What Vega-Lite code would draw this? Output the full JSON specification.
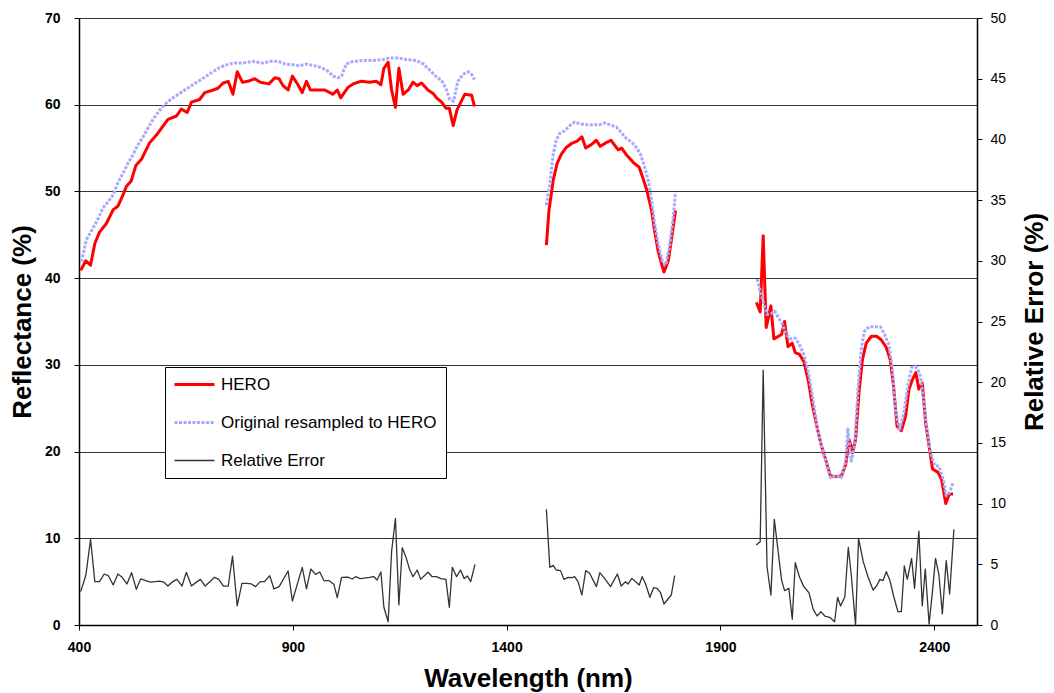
{
"$schema":"https://vega.github.io/schema/vega-lite/v6.json",
"autosize":{"type":"none"},
"padding":{"left":79,"top":18,"right":77,"bottom":68},
"width":898,"height":607,
"background":"white",
"data":{"values":[
{"series":"HERO","nm":404,"value":40.9,"segment":1},{"series":"HERO","nm":416,"value":42.0,"segment":1},{"series":"HERO","nm":427,"value":41.5,"segment":1},{"series":"HERO","nm":437,"value":44.0,"segment":1},{"series":"HERO","nm":448,"value":45.3,"segment":1},{"series":"HERO","nm":464,"value":46.3,"segment":1},{"series":"HERO","nm":480,"value":47.9,"segment":1},{"series":"HERO","nm":491,"value":48.3,"segment":1},{"series":"HERO","nm":503,"value":49.6,"segment":1},{"series":"HERO","nm":511,"value":50.6,"segment":1},{"series":"HERO","nm":522,"value":51.2,"segment":1},{"series":"HERO","nm":533,"value":53.0,"segment":1},{"series":"HERO","nm":546,"value":53.7,"segment":1},{"series":"HERO","nm":565,"value":55.6,"segment":1},{"series":"HERO","nm":581,"value":56.5,"segment":1},{"series":"HERO","nm":593,"value":57.3,"segment":1},{"series":"HERO","nm":608,"value":58.3,"segment":1},{"series":"HERO","nm":628,"value":58.7,"segment":1},{"series":"HERO","nm":639,"value":59.5,"segment":1},{"series":"HERO","nm":653,"value":59.1,"segment":1},{"series":"HERO","nm":663,"value":60.3,"segment":1},{"series":"HERO","nm":682,"value":60.6,"segment":1},{"series":"HERO","nm":694,"value":61.4,"segment":1},{"series":"HERO","nm":714,"value":61.7,"segment":1},{"series":"HERO","nm":725,"value":61.9,"segment":1},{"series":"HERO","nm":737,"value":62.5,"segment":1},{"series":"HERO","nm":749,"value":62.7,"segment":1},{"series":"HERO","nm":760,"value":61.2,"segment":1},{"series":"HERO","nm":770,"value":63.8,"segment":1},{"series":"HERO","nm":782,"value":62.6,"segment":1},{"series":"HERO","nm":795,"value":62.7,"segment":1},{"series":"HERO","nm":811,"value":63.0,"segment":1},{"series":"HERO","nm":824,"value":62.6,"segment":1},{"series":"HERO","nm":844,"value":62.4,"segment":1},{"series":"HERO","nm":858,"value":63.1,"segment":1},{"series":"HERO","nm":868,"value":63.0,"segment":1},{"series":"HERO","nm":877,"value":62.2,"segment":1},{"series":"HERO","nm":889,"value":61.7,"segment":1},{"series":"HERO","nm":899,"value":63.3,"segment":1},{"series":"HERO","nm":912,"value":62.3,"segment":1},{"series":"HERO","nm":922,"value":61.4,"segment":1},{"series":"HERO","nm":932,"value":62.7,"segment":1},{"series":"HERO","nm":941,"value":61.7,"segment":1},{"series":"HERO","nm":955,"value":61.7,"segment":1},{"series":"HERO","nm":975,"value":61.7,"segment":1},{"series":"HERO","nm":994,"value":61.2,"segment":1},{"series":"HERO","nm":1004,"value":61.7,"segment":1},{"series":"HERO","nm":1012,"value":60.8,"segment":1},{"series":"HERO","nm":1029,"value":62.0,"segment":1},{"series":"HERO","nm":1041,"value":62.4,"segment":1},{"series":"HERO","nm":1060,"value":62.7,"segment":1},{"series":"HERO","nm":1080,"value":62.6,"segment":1},{"series":"HERO","nm":1095,"value":62.7,"segment":1},{"series":"HERO","nm":1106,"value":62.3,"segment":1},{"series":"HERO","nm":1113,"value":64.2,"segment":1},{"series":"HERO","nm":1123,"value":64.9,"segment":1},{"series":"HERO","nm":1131,"value":61.7,"segment":1},{"series":"HERO","nm":1140,"value":59.7,"segment":1},{"series":"HERO","nm":1148,"value":64.2,"segment":1},{"series":"HERO","nm":1158,"value":61.2,"segment":1},{"series":"HERO","nm":1170,"value":61.7,"segment":1},{"series":"HERO","nm":1181,"value":62.6,"segment":1},{"series":"HERO","nm":1191,"value":62.2,"segment":1},{"series":"HERO","nm":1201,"value":62.5,"segment":1},{"series":"HERO","nm":1216,"value":61.7,"segment":1},{"series":"HERO","nm":1228,"value":61.3,"segment":1},{"series":"HERO","nm":1236,"value":60.8,"segment":1},{"series":"HERO","nm":1248,"value":60.3,"segment":1},{"series":"HERO","nm":1258,"value":59.6,"segment":1},{"series":"HERO","nm":1266,"value":59.6,"segment":1},{"series":"HERO","nm":1275,"value":57.6,"segment":1},{"series":"HERO","nm":1284,"value":59.4,"segment":1},{"series":"HERO","nm":1302,"value":61.2,"segment":1},{"series":"HERO","nm":1318,"value":61.1,"segment":1},{"series":"HERO","nm":1325,"value":59.8,"segment":1},
{"series":"HERO","nm":1493,"value":43.8,"segment":2},{"series":"HERO","nm":1499,"value":47.8,"segment":2},{"series":"HERO","nm":1509,"value":51.3,"segment":2},{"series":"HERO","nm":1518,"value":53.2,"segment":2},{"series":"HERO","nm":1528,"value":54.3,"segment":2},{"series":"HERO","nm":1540,"value":55.1,"segment":2},{"series":"HERO","nm":1551,"value":55.5,"segment":2},{"series":"HERO","nm":1565,"value":55.8,"segment":2},{"series":"HERO","nm":1576,"value":56.3,"segment":2},{"series":"HERO","nm":1585,"value":55.0,"segment":2},{"series":"HERO","nm":1598,"value":55.4,"segment":2},{"series":"HERO","nm":1610,"value":55.9,"segment":2},{"series":"HERO","nm":1619,"value":55.2,"segment":2},{"series":"HERO","nm":1632,"value":55.6,"segment":2},{"series":"HERO","nm":1644,"value":55.9,"segment":2},{"series":"HERO","nm":1653,"value":55.3,"segment":2},{"series":"HERO","nm":1661,"value":54.8,"segment":2},{"series":"HERO","nm":1669,"value":55.0,"segment":2},{"series":"HERO","nm":1679,"value":54.3,"segment":2},{"series":"HERO","nm":1688,"value":53.8,"segment":2},{"series":"HERO","nm":1697,"value":53.3,"segment":2},{"series":"HERO","nm":1710,"value":52.8,"segment":2},{"series":"HERO","nm":1719,"value":51.5,"segment":2},{"series":"HERO","nm":1728,"value":50.1,"segment":2},{"series":"HERO","nm":1739,"value":47.8,"segment":2},{"series":"HERO","nm":1746,"value":45.5,"segment":2},{"series":"HERO","nm":1754,"value":43.2,"segment":2},{"series":"HERO","nm":1762,"value":41.7,"segment":2},{"series":"HERO","nm":1768,"value":40.7,"segment":2},{"series":"HERO","nm":1778,"value":42.0,"segment":2},{"series":"HERO","nm":1785,"value":44.3,"segment":2},{"series":"HERO","nm":1795,"value":47.8,"segment":2},
{"series":"HERO","nm":1984,"value":37.2,"segment":3},{"series":"HERO","nm":1993,"value":36.1,"segment":3},{"series":"HERO","nm":2000,"value":44.9,"segment":3},{"series":"HERO","nm":2007,"value":34.3,"segment":3},{"series":"HERO","nm":2018,"value":36.8,"segment":3},{"series":"HERO","nm":2025,"value":33.0,"segment":3},{"series":"HERO","nm":2043,"value":33.5,"segment":3},{"series":"HERO","nm":2050,"value":35.0,"segment":3},{"series":"HERO","nm":2058,"value":32.1,"segment":3},{"series":"HERO","nm":2068,"value":32.5,"segment":3},{"series":"HERO","nm":2075,"value":31.4,"segment":3},{"series":"HERO","nm":2085,"value":31.2,"segment":3},{"series":"HERO","nm":2095,"value":30.4,"segment":3},{"series":"HERO","nm":2105,"value":28.3,"segment":3},{"series":"HERO","nm":2115,"value":25.4,"segment":3},{"series":"HERO","nm":2126,"value":22.8,"segment":3},{"series":"HERO","nm":2136,"value":20.7,"segment":3},{"series":"HERO","nm":2146,"value":19.1,"segment":3},{"series":"HERO","nm":2157,"value":17.2,"segment":3},{"series":"HERO","nm":2171,"value":17.1,"segment":3},{"series":"HERO","nm":2183,"value":17.2,"segment":3},{"series":"HERO","nm":2193,"value":18.5,"segment":3},{"series":"HERO","nm":2201,"value":21.4,"segment":3},{"series":"HERO","nm":2209,"value":19.9,"segment":3},{"series":"HERO","nm":2216,"value":21.4,"segment":3},{"series":"HERO","nm":2224,"value":26.8,"segment":3},{"series":"HERO","nm":2232,"value":30.6,"segment":3},{"series":"HERO","nm":2241,"value":32.5,"segment":3},{"series":"HERO","nm":2253,"value":33.3,"segment":3},{"series":"HERO","nm":2265,"value":33.3,"segment":3},{"series":"HERO","nm":2276,"value":32.9,"segment":3},{"series":"HERO","nm":2288,"value":32.0,"segment":3},{"series":"HERO","nm":2297,"value":30.6,"segment":3},{"series":"HERO","nm":2305,"value":27.5,"segment":3},{"series":"HERO","nm":2313,"value":22.9,"segment":3},{"series":"HERO","nm":2323,"value":22.4,"segment":3},{"series":"HERO","nm":2333,"value":24.1,"segment":3},{"series":"HERO","nm":2341,"value":27.2,"segment":3},{"series":"HERO","nm":2349,"value":28.3,"segment":3},{"series":"HERO","nm":2357,"value":29.1,"segment":3},{"series":"HERO","nm":2364,"value":27.2,"segment":3},{"series":"HERO","nm":2372,"value":27.9,"segment":3},{"series":"HERO","nm":2380,"value":23.3,"segment":3},{"series":"HERO","nm":2389,"value":20.3,"segment":3},{"series":"HERO","nm":2396,"value":18.0,"segment":3},{"series":"HERO","nm":2409,"value":17.6,"segment":3},{"series":"HERO","nm":2417,"value":16.8,"segment":3},{"series":"HERO","nm":2427,"value":14.0,"segment":3},{"series":"HERO","nm":2435,"value":15.1,"segment":3},{"series":"HERO","nm":2444,"value":15.1,"segment":3},
{"series":"Original resampled to HERO","nm":406,"value":41.9,"segment":1},{"series":"Original resampled to HERO","nm":417,"value":44.4,"segment":1},{"series":"Original resampled to HERO","nm":433,"value":45.8,"segment":1},{"series":"Original resampled to HERO","nm":445,"value":46.9,"segment":1},{"series":"Original resampled to HERO","nm":456,"value":48.1,"segment":1},{"series":"Original resampled to HERO","nm":468,"value":48.8,"segment":1},{"series":"Original resampled to HERO","nm":480,"value":49.6,"segment":1},{"series":"Original resampled to HERO","nm":491,"value":51.0,"segment":1},{"series":"Original resampled to HERO","nm":503,"value":52.1,"segment":1},{"series":"Original resampled to HERO","nm":515,"value":53.3,"segment":1},{"series":"Original resampled to HERO","nm":526,"value":54.2,"segment":1},{"series":"Original resampled to HERO","nm":538,"value":55.4,"segment":1},{"series":"Original resampled to HERO","nm":550,"value":56.3,"segment":1},{"series":"Original resampled to HERO","nm":561,"value":57.3,"segment":1},{"series":"Original resampled to HERO","nm":573,"value":58.3,"segment":1},{"series":"Original resampled to HERO","nm":589,"value":59.4,"segment":1},{"series":"Original resampled to HERO","nm":604,"value":60.2,"segment":1},{"series":"Original resampled to HERO","nm":620,"value":60.8,"segment":1},{"series":"Original resampled to HERO","nm":635,"value":61.3,"segment":1},{"series":"Original resampled to HERO","nm":651,"value":61.8,"segment":1},{"series":"Original resampled to HERO","nm":666,"value":62.3,"segment":1},{"series":"Original resampled to HERO","nm":682,"value":62.8,"segment":1},{"series":"Original resampled to HERO","nm":698,"value":63.3,"segment":1},{"series":"Original resampled to HERO","nm":713,"value":63.8,"segment":1},{"series":"Original resampled to HERO","nm":729,"value":64.3,"segment":1},{"series":"Original resampled to HERO","nm":745,"value":64.6,"segment":1},{"series":"Original resampled to HERO","nm":760,"value":64.8,"segment":1},{"series":"Original resampled to HERO","nm":784,"value":64.8,"segment":1},{"series":"Original resampled to HERO","nm":807,"value":65.0,"segment":1},{"series":"Original resampled to HERO","nm":830,"value":64.8,"segment":1},{"series":"Original resampled to HERO","nm":846,"value":65.0,"segment":1},{"series":"Original resampled to HERO","nm":866,"value":65.0,"segment":1},{"series":"Original resampled to HERO","nm":881,"value":64.7,"segment":1},{"series":"Original resampled to HERO","nm":901,"value":64.6,"segment":1},{"series":"Original resampled to HERO","nm":916,"value":64.5,"segment":1},{"series":"Original resampled to HERO","nm":932,"value":64.7,"segment":1},{"series":"Original resampled to HERO","nm":940,"value":64.6,"segment":1},{"series":"Original resampled to HERO","nm":959,"value":64.4,"segment":1},{"series":"Original resampled to HERO","nm":979,"value":64.0,"segment":1},{"series":"Original resampled to HERO","nm":994,"value":63.3,"segment":1},{"series":"Original resampled to HERO","nm":1006,"value":63.1,"segment":1},{"series":"Original resampled to HERO","nm":1014,"value":63.3,"segment":1},{"series":"Original resampled to HERO","nm":1025,"value":64.7,"segment":1},{"series":"Original resampled to HERO","nm":1041,"value":65.0,"segment":1},{"series":"Original resampled to HERO","nm":1064,"value":65.1,"segment":1},{"series":"Original resampled to HERO","nm":1088,"value":65.1,"segment":1},{"series":"Original resampled to HERO","nm":1111,"value":65.2,"segment":1},{"series":"Original resampled to HERO","nm":1127,"value":65.4,"segment":1},{"series":"Original resampled to HERO","nm":1146,"value":65.4,"segment":1},{"series":"Original resampled to HERO","nm":1166,"value":65.2,"segment":1},{"series":"Original resampled to HERO","nm":1189,"value":65.1,"segment":1},{"series":"Original resampled to HERO","nm":1205,"value":64.7,"segment":1},{"series":"Original resampled to HERO","nm":1220,"value":64.0,"segment":1},{"series":"Original resampled to HERO","nm":1236,"value":63.2,"segment":1},{"series":"Original resampled to HERO","nm":1248,"value":62.8,"segment":1},{"series":"Original resampled to HERO","nm":1258,"value":61.9,"segment":1},{"series":"Original resampled to HERO","nm":1267,"value":60.6,"segment":1},{"series":"Original resampled to HERO","nm":1276,"value":60.4,"segment":1},{"series":"Original resampled to HERO","nm":1286,"value":62.7,"segment":1},{"series":"Original resampled to HERO","nm":1298,"value":63.5,"segment":1},{"series":"Original resampled to HERO","nm":1310,"value":63.8,"segment":1},{"series":"Original resampled to HERO","nm":1318,"value":63.5,"segment":1},{"series":"Original resampled to HERO","nm":1325,"value":62.9,"segment":1},
{"series":"Original resampled to HERO","nm":1493,"value":48.4,"segment":2},{"series":"Original resampled to HERO","nm":1501,"value":50.9,"segment":2},{"series":"Original resampled to HERO","nm":1509,"value":54.3,"segment":2},{"series":"Original resampled to HERO","nm":1516,"value":55.9,"segment":2},{"series":"Original resampled to HERO","nm":1524,"value":56.7,"segment":2},{"series":"Original resampled to HERO","nm":1536,"value":57.0,"segment":2},{"series":"Original resampled to HERO","nm":1548,"value":57.6,"segment":2},{"series":"Original resampled to HERO","nm":1559,"value":58.0,"segment":2},{"series":"Original resampled to HERO","nm":1571,"value":57.8,"segment":2},{"series":"Original resampled to HERO","nm":1587,"value":57.7,"segment":2},{"series":"Original resampled to HERO","nm":1602,"value":57.7,"segment":2},{"series":"Original resampled to HERO","nm":1618,"value":57.7,"segment":2},{"series":"Original resampled to HERO","nm":1629,"value":57.9,"segment":2},{"series":"Original resampled to HERO","nm":1641,"value":57.7,"segment":2},{"series":"Original resampled to HERO","nm":1657,"value":57.4,"segment":2},{"series":"Original resampled to HERO","nm":1668,"value":56.8,"segment":2},{"series":"Original resampled to HERO","nm":1680,"value":56.1,"segment":2},{"series":"Original resampled to HERO","nm":1692,"value":55.7,"segment":2},{"series":"Original resampled to HERO","nm":1703,"value":55.1,"segment":2},{"series":"Original resampled to HERO","nm":1713,"value":54.3,"segment":2},{"series":"Original resampled to HERO","nm":1723,"value":52.8,"segment":2},{"series":"Original resampled to HERO","nm":1731,"value":51.3,"segment":2},{"series":"Original resampled to HERO","nm":1739,"value":49.0,"segment":2},{"series":"Original resampled to HERO","nm":1746,"value":46.3,"segment":2},{"series":"Original resampled to HERO","nm":1754,"value":44.0,"segment":2},{"series":"Original resampled to HERO","nm":1764,"value":42.0,"segment":2},{"series":"Original resampled to HERO","nm":1772,"value":41.5,"segment":2},{"series":"Original resampled to HERO","nm":1781,"value":43.6,"segment":2},{"series":"Original resampled to HERO","nm":1789,"value":46.7,"segment":2},{"series":"Original resampled to HERO","nm":1795,"value":49.9,"segment":2},
{"series":"Original resampled to HERO","nm":1986,"value":39.9,"segment":3},{"series":"Original resampled to HERO","nm":1993,"value":38.5,"segment":3},{"series":"Original resampled to HERO","nm":2001,"value":37.1,"segment":3},{"series":"Original resampled to HERO","nm":2009,"value":35.8,"segment":3},{"series":"Original resampled to HERO","nm":2018,"value":35.9,"segment":3},{"series":"Original resampled to HERO","nm":2027,"value":36.2,"segment":3},{"series":"Original resampled to HERO","nm":2036,"value":35.4,"segment":3},{"series":"Original resampled to HERO","nm":2044,"value":34.8,"segment":3},{"series":"Original resampled to HERO","nm":2054,"value":33.5,"segment":3},{"series":"Original resampled to HERO","nm":2064,"value":33.0,"segment":3},{"series":"Original resampled to HERO","nm":2075,"value":33.1,"segment":3},{"series":"Original resampled to HERO","nm":2085,"value":32.3,"segment":3},{"series":"Original resampled to HERO","nm":2095,"value":31.2,"segment":3},{"series":"Original resampled to HERO","nm":2105,"value":29.3,"segment":3},{"series":"Original resampled to HERO","nm":2115,"value":26.4,"segment":3},{"series":"Original resampled to HERO","nm":2126,"value":22.9,"segment":3},{"series":"Original resampled to HERO","nm":2136,"value":20.7,"segment":3},{"series":"Original resampled to HERO","nm":2146,"value":19.1,"segment":3},{"series":"Original resampled to HERO","nm":2157,"value":17.0,"segment":3},{"series":"Original resampled to HERO","nm":2171,"value":17.2,"segment":3},{"series":"Original resampled to HERO","nm":2183,"value":17.0,"segment":3},{"series":"Original resampled to HERO","nm":2193,"value":18.9,"segment":3},{"series":"Original resampled to HERO","nm":2198,"value":22.6,"segment":3},{"series":"Original resampled to HERO","nm":2206,"value":18.9,"segment":3},{"series":"Original resampled to HERO","nm":2214,"value":20.7,"segment":3},{"series":"Original resampled to HERO","nm":2222,"value":27.5,"segment":3},{"series":"Original resampled to HERO","nm":2230,"value":32.1,"segment":3},{"series":"Original resampled to HERO","nm":2237,"value":33.9,"segment":3},{"series":"Original resampled to HERO","nm":2248,"value":34.4,"segment":3},{"series":"Original resampled to HERO","nm":2261,"value":34.4,"segment":3},{"series":"Original resampled to HERO","nm":2274,"value":34.4,"segment":3},{"series":"Original resampled to HERO","nm":2284,"value":33.5,"segment":3},{"series":"Original resampled to HERO","nm":2294,"value":32.3,"segment":3},{"series":"Original resampled to HERO","nm":2302,"value":29.5,"segment":3},{"series":"Original resampled to HERO","nm":2310,"value":24.5,"segment":3},{"series":"Original resampled to HERO","nm":2319,"value":22.4,"segment":3},{"series":"Original resampled to HERO","nm":2329,"value":24.5,"segment":3},{"series":"Original resampled to HERO","nm":2339,"value":27.7,"segment":3},{"series":"Original resampled to HERO","nm":2347,"value":29.7,"segment":3},{"series":"Original resampled to HERO","nm":2356,"value":29.8,"segment":3},{"series":"Original resampled to HERO","nm":2366,"value":29.1,"segment":3},{"series":"Original resampled to HERO","nm":2374,"value":26.4,"segment":3},{"series":"Original resampled to HERO","nm":2382,"value":22.9,"segment":3},{"series":"Original resampled to HERO","nm":2391,"value":19.9,"segment":3},{"series":"Original resampled to HERO","nm":2401,"value":18.4,"segment":3},{"series":"Original resampled to HERO","nm":2411,"value":18.3,"segment":3},{"series":"Original resampled to HERO","nm":2421,"value":16.8,"segment":3},{"series":"Original resampled to HERO","nm":2428,"value":14.9,"segment":3},{"series":"Original resampled to HERO","nm":2436,"value":15.3,"segment":3},{"series":"Original resampled to HERO","nm":2444,"value":16.4,"segment":3},
{"series":"Relative Error","nm":404,"value":2.75,"segment":1},{"series":"Relative Error","nm":416,"value":4.1,"segment":1},{"series":"Relative Error","nm":427,"value":7.06,"segment":1},{"series":"Relative Error","nm":437,"value":3.57,"segment":1},{"series":"Relative Error","nm":448,"value":3.57,"segment":1},{"series":"Relative Error","nm":459,"value":4.2,"segment":1},{"series":"Relative Error","nm":469,"value":4.04,"segment":1},{"series":"Relative Error","nm":480,"value":3.3,"segment":1},{"series":"Relative Error","nm":491,"value":4.2,"segment":1},{"series":"Relative Error","nm":501,"value":3.93,"segment":1},{"series":"Relative Error","nm":512,"value":3.38,"segment":1},{"series":"Relative Error","nm":523,"value":4.31,"segment":1},{"series":"Relative Error","nm":534,"value":2.94,"segment":1},{"series":"Relative Error","nm":544,"value":3.79,"segment":1},{"series":"Relative Error","nm":556,"value":3.65,"segment":1},{"series":"Relative Error","nm":567,"value":3.54,"segment":1},{"series":"Relative Error","nm":589,"value":3.62,"segment":1},{"series":"Relative Error","nm":598,"value":3.54,"segment":1},{"series":"Relative Error","nm":608,"value":3.21,"segment":1},{"series":"Relative Error","nm":619,"value":3.57,"segment":1},{"series":"Relative Error","nm":629,"value":3.76,"segment":1},{"series":"Relative Error","nm":641,"value":3.21,"segment":1},{"series":"Relative Error","nm":651,"value":4.34,"segment":1},{"series":"Relative Error","nm":663,"value":3.21,"segment":1},{"series":"Relative Error","nm":673,"value":3.49,"segment":1},{"series":"Relative Error","nm":684,"value":3.76,"segment":1},{"series":"Relative Error","nm":695,"value":3.21,"segment":1},{"series":"Relative Error","nm":706,"value":3.57,"segment":1},{"series":"Relative Error","nm":717,"value":3.93,"segment":1},{"series":"Relative Error","nm":727,"value":3.76,"segment":1},{"series":"Relative Error","nm":738,"value":3.21,"segment":1},{"series":"Relative Error","nm":749,"value":3.21,"segment":1},{"series":"Relative Error","nm":759,"value":5.68,"segment":1},{"series":"Relative Error","nm":770,"value":1.57,"segment":1},{"series":"Relative Error","nm":781,"value":3.43,"segment":1},{"series":"Relative Error","nm":793,"value":3.43,"segment":1},{"series":"Relative Error","nm":803,"value":3.38,"segment":1},{"series":"Relative Error","nm":813,"value":3.16,"segment":1},{"series":"Relative Error","nm":824,"value":3.57,"segment":1},{"series":"Relative Error","nm":834,"value":3.57,"segment":1},{"series":"Relative Error","nm":846,"value":4.06,"segment":1},{"series":"Relative Error","nm":856,"value":2.97,"segment":1},{"series":"Relative Error","nm":868,"value":3.16,"segment":1},{"series":"Relative Error","nm":889,"value":4.45,"segment":1},{"series":"Relative Error","nm":899,"value":1.98,"segment":1},{"series":"Relative Error","nm":922,"value":4.75,"segment":1},{"series":"Relative Error","nm":932,"value":2.97,"segment":1},{"series":"Relative Error","nm":942,"value":4.61,"segment":1},{"series":"Relative Error","nm":953,"value":4.17,"segment":1},{"series":"Relative Error","nm":963,"value":4.37,"segment":1},{"series":"Relative Error","nm":973,"value":3.65,"segment":1},{"series":"Relative Error","nm":985,"value":3.65,"segment":1},{"series":"Relative Error","nm":996,"value":3.35,"segment":1},{"series":"Relative Error","nm":1004,"value":2.25,"segment":1},{"series":"Relative Error","nm":1014,"value":3.93,"segment":1},{"series":"Relative Error","nm":1029,"value":3.95,"segment":1},{"series":"Relative Error","nm":1039,"value":3.79,"segment":1},{"series":"Relative Error","nm":1047,"value":3.98,"segment":1},{"series":"Relative Error","nm":1058,"value":3.82,"segment":1},{"series":"Relative Error","nm":1080,"value":3.93,"segment":1},{"series":"Relative Error","nm":1089,"value":4.0,"segment":1},{"series":"Relative Error","nm":1097,"value":3.71,"segment":1},{"series":"Relative Error","nm":1106,"value":4.37,"segment":1},{"series":"Relative Error","nm":1113,"value":1.46,"segment":1},{"series":"Relative Error","nm":1123,"value":0.27,"segment":1},{"series":"Relative Error","nm":1131,"value":6.04,"segment":1},{"series":"Relative Error","nm":1140,"value":8.79,"segment":1},{"series":"Relative Error","nm":1148,"value":1.65,"segment":1},{"series":"Relative Error","nm":1156,"value":6.37,"segment":1},{"series":"Relative Error","nm":1165,"value":5.55,"segment":1},{"series":"Relative Error","nm":1173,"value":4.59,"segment":1},{"series":"Relative Error","nm":1181,"value":3.98,"segment":1},{"series":"Relative Error","nm":1191,"value":4.53,"segment":1},{"series":"Relative Error","nm":1199,"value":3.76,"segment":1},{"series":"Relative Error","nm":1216,"value":4.34,"segment":1},{"series":"Relative Error","nm":1226,"value":3.98,"segment":1},{"series":"Relative Error","nm":1236,"value":3.98,"segment":1},{"series":"Relative Error","nm":1246,"value":3.82,"segment":1},{"series":"Relative Error","nm":1258,"value":3.76,"segment":1},{"series":"Relative Error","nm":1266,"value":1.46,"segment":1},{"series":"Relative Error","nm":1273,"value":4.75,"segment":1},{"series":"Relative Error","nm":1283,"value":3.98,"segment":1},{"series":"Relative Error","nm":1292,"value":4.53,"segment":1},{"series":"Relative Error","nm":1301,"value":3.82,"segment":1},{"series":"Relative Error","nm":1308,"value":4.04,"segment":1},{"series":"Relative Error","nm":1316,"value":3.57,"segment":1},{"series":"Relative Error","nm":1326,"value":5.0,"segment":1},
{"series":"Relative Error","nm":1493,"value":9.53,"segment":2},{"series":"Relative Error","nm":1501,"value":4.75,"segment":2},{"series":"Relative Error","nm":1509,"value":4.91,"segment":2},{"series":"Relative Error","nm":1516,"value":4.53,"segment":2},{"series":"Relative Error","nm":1526,"value":4.48,"segment":2},{"series":"Relative Error","nm":1534,"value":3.76,"segment":2},{"series":"Relative Error","nm":1544,"value":3.93,"segment":2},{"series":"Relative Error","nm":1554,"value":3.9,"segment":2},{"series":"Relative Error","nm":1559,"value":3.98,"segment":2},{"series":"Relative Error","nm":1567,"value":3.57,"segment":2},{"series":"Relative Error","nm":1576,"value":2.47,"segment":2},{"series":"Relative Error","nm":1585,"value":4.48,"segment":2},{"series":"Relative Error","nm":1594,"value":4.26,"segment":2},{"series":"Relative Error","nm":1610,"value":3.16,"segment":2},{"series":"Relative Error","nm":1618,"value":4.31,"segment":2},{"series":"Relative Error","nm":1629,"value":3.84,"segment":2},{"series":"Relative Error","nm":1643,"value":3.16,"segment":2},{"series":"Relative Error","nm":1659,"value":4.2,"segment":2},{"series":"Relative Error","nm":1668,"value":3.21,"segment":2},{"series":"Relative Error","nm":1678,"value":3.57,"segment":2},{"series":"Relative Error","nm":1684,"value":3.38,"segment":2},{"series":"Relative Error","nm":1693,"value":3.84,"segment":2},{"series":"Relative Error","nm":1710,"value":3.29,"segment":2},{"series":"Relative Error","nm":1717,"value":3.98,"segment":2},{"series":"Relative Error","nm":1725,"value":3.38,"segment":2},{"series":"Relative Error","nm":1735,"value":2.28,"segment":2},{"series":"Relative Error","nm":1744,"value":3.08,"segment":2},{"series":"Relative Error","nm":1752,"value":3.02,"segment":2},{"series":"Relative Error","nm":1760,"value":2.66,"segment":2},{"series":"Relative Error","nm":1768,"value":1.73,"segment":2},{"series":"Relative Error","nm":1785,"value":2.47,"segment":2},{"series":"Relative Error","nm":1793,"value":4.06,"segment":2},
{"series":"Relative Error","nm":1984,"value":6.59,"segment":3},{"series":"Relative Error","nm":1993,"value":6.86,"segment":3},{"series":"Relative Error","nm":2000,"value":21.0,"segment":3},{"series":"Relative Error","nm":2009,"value":4.8,"segment":3},{"series":"Relative Error","nm":2018,"value":2.47,"segment":3},{"series":"Relative Error","nm":2026,"value":8.7,"segment":3},{"series":"Relative Error","nm":2043,"value":3.7,"segment":3},{"series":"Relative Error","nm":2050,"value":2.83,"segment":3},{"series":"Relative Error","nm":2060,"value":3.02,"segment":3},{"series":"Relative Error","nm":2068,"value":0.47,"segment":3},{"series":"Relative Error","nm":2075,"value":5.13,"segment":3},{"series":"Relative Error","nm":2085,"value":3.93,"segment":3},{"series":"Relative Error","nm":2095,"value":3.16,"segment":3},{"series":"Relative Error","nm":2107,"value":2.66,"segment":3},{"series":"Relative Error","nm":2117,"value":1.29,"segment":3},{"series":"Relative Error","nm":2126,"value":0.74,"segment":3},{"series":"Relative Error","nm":2135,"value":1.1,"segment":3},{"series":"Relative Error","nm":2144,"value":0.74,"segment":3},{"series":"Relative Error","nm":2157,"value":0.6,"segment":3},{"series":"Relative Error","nm":2167,"value":0.27,"segment":3},{"series":"Relative Error","nm":2174,"value":2.28,"segment":3},{"series":"Relative Error","nm":2181,"value":1.57,"segment":3},{"series":"Relative Error","nm":2191,"value":2.33,"segment":3},{"series":"Relative Error","nm":2199,"value":6.4,"segment":3},{"series":"Relative Error","nm":2206,"value":4.12,"segment":3},{"series":"Relative Error","nm":2216,"value":0.0,"segment":3},{"series":"Relative Error","nm":2223,"value":7.14,"segment":3},{"series":"Relative Error","nm":2234,"value":5.22,"segment":3},{"series":"Relative Error","nm":2245,"value":3.98,"segment":3},{"series":"Relative Error","nm":2257,"value":2.88,"segment":3},{"series":"Relative Error","nm":2265,"value":3.21,"segment":3},{"series":"Relative Error","nm":2273,"value":3.76,"segment":3},{"series":"Relative Error","nm":2280,"value":3.65,"segment":3},{"series":"Relative Error","nm":2288,"value":4.39,"segment":3},{"series":"Relative Error","nm":2296,"value":3.71,"segment":3},{"series":"Relative Error","nm":2305,"value":2.39,"segment":3},{"series":"Relative Error","nm":2315,"value":1.1,"segment":3},{"series":"Relative Error","nm":2323,"value":1.1,"segment":3},{"series":"Relative Error","nm":2330,"value":4.86,"segment":3},{"series":"Relative Error","nm":2337,"value":3.76,"segment":3},{"series":"Relative Error","nm":2347,"value":5.49,"segment":3},{"series":"Relative Error","nm":2354,"value":3.02,"segment":3},{"series":"Relative Error","nm":2364,"value":7.74,"segment":3},{"series":"Relative Error","nm":2372,"value":1.57,"segment":3},{"series":"Relative Error","nm":2379,"value":4.61,"segment":3},{"series":"Relative Error","nm":2388,"value":0.08,"segment":3},{"series":"Relative Error","nm":2396,"value":2.83,"segment":3},{"series":"Relative Error","nm":2403,"value":5.49,"segment":3},{"series":"Relative Error","nm":2411,"value":4.12,"segment":3},{"series":"Relative Error","nm":2419,"value":0.91,"segment":3},{"series":"Relative Error","nm":2428,"value":5.3,"segment":3},{"series":"Relative Error","nm":2436,"value":2.55,"segment":3},{"series":"Relative Error","nm":2446,"value":7.88,"segment":3}
]},
"layer":[
{
"layer":[
{"transform":[{"filter":"datum.series == 'HERO'"}],
"mark":{"type":"line","strokeJoin":"round","strokeWidth":3},
"encoding":{
"x":{"field":"nm","type":"quantitative","scale":{"domain":[400,2500],"nice":false,"zero":false},"axis":{"values":[400,900,1400,1900,2400],"format":"d","title":"Wavelength (nm)","titleFontSize":26,"titleFontWeight":"bold","labelFontSize":14,"labelFontWeight":"bold","labelPadding":10,"tickSize":5,"domainWidth":1.5,"grid":false,"titlePadding":11,"labelFlush":false}},
"y":{"field":"value","type":"quantitative","scale":{"domain":[0,70],"nice":false},"axis":{"orient":"left","values":[0,10,20,30,40,50,60,70],"title":"Reflectance (%)","titleFontSize":26,"titleFontWeight":"bold","labelFontSize":14,"labelFontWeight":"bold","labelPadding":14,"tickSize":5,"domainWidth":1.5,"grid":true,"gridColor":"#333333","gridWidth":1,"titlePadding":9}},
"detail":{"field":"segment","type":"nominal"},
"color":{"field":"series","type":"nominal","scale":{"domain":["HERO","Original resampled to HERO","Relative Error"],"range":["#ff0000","#a8a8ff","#333333"]},
"legend":{"orient":"none","legendX":86,"legendY":349,"title":null,"labelLimit":400,
"encode":{"symbols":{"update":{"strokeDash":{"signal":"datum.value == 'Original resampled to HERO' ? [3,1.5] : [1,0]"},"strokeWidth":{"signal":"datum.value == 'Relative Error' ? 1.3 : 3"}}}}}}
}},
{"transform":[{"filter":"datum.series == 'Original resampled to HERO'"}],
"mark":{"type":"line","strokeJoin":"round","strokeWidth":3,"strokeDash":[3,1.5]},
"encoding":{
"x":{"field":"nm","type":"quantitative"},
"y":{"field":"value","type":"quantitative"},
"detail":{"field":"segment","type":"nominal"},
"color":{"field":"series","type":"nominal"}
}}
]
},
{"transform":[{"filter":"datum.series == 'Relative Error'"}],
"mark":{"type":"line","strokeJoin":"round","strokeWidth":1.3},
"encoding":{
"x":{"field":"nm","type":"quantitative"},
"y":{"field":"value","type":"quantitative","scale":{"domain":[0,50],"nice":false},"axis":{"orient":"right","values":[0,5,10,15,20,25,30,35,40,45,50],"title":"Relative Error (%)","titleFontSize":26,"titleFontWeight":"bold","titleAngle":270,"labelFontSize":14,"labelPadding":8,"tickSize":5,"domainWidth":1.5,"grid":false,"titlePadding":42}},
"detail":{"field":"segment","type":"nominal"},
"color":{"field":"series","type":"nominal"}
}}
],
"resolve":{"scale":{"y":"independent"},"axis":{"y":"independent"}},
"config":{"font":"Liberation Sans","view":{"stroke":null},
"axis":{"labelColor":"black","titleColor":"black","domainColor":"black","tickColor":"black","labelFont":"Liberation Sans","titleFont":"Liberation Sans"},
"legend":{"fillColor":"white","strokeColor":"black","padding":9,"labelFont":"Liberation Sans","labelFontSize":17,"labelColor":"black","symbolType":"stroke","symbolSize":1600,"symbolOffset":12,"labelOffset":18,"rowPadding":20,"cornerRadius":0}}
}
